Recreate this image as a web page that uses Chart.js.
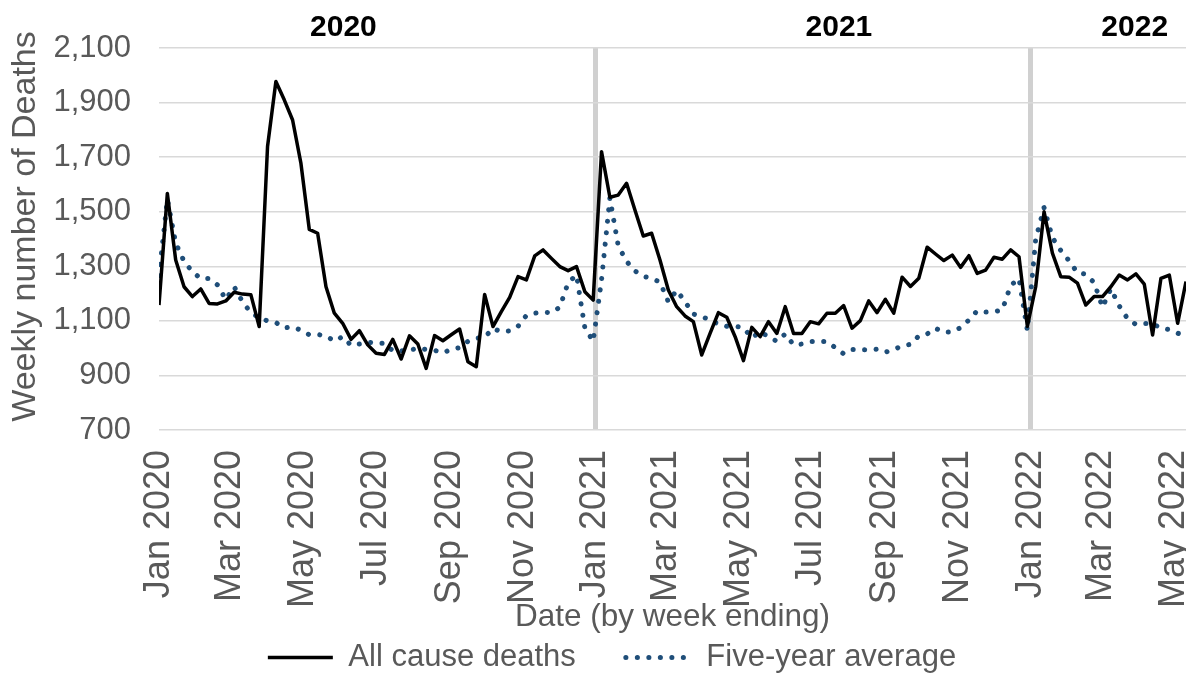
<!DOCTYPE html>
<html>
<head>
<meta charset="utf-8">
<script src="https://cdn.jsdelivr.net/npm/chart.js@4/dist/chart.umd.min.js"></script>
<style>
html,body{margin:0;padding:0;background:#ffffff;}
#wrap{width:1186px;height:675px;position:relative;}
</style>
</head>
<body>
<div id="wrap"><canvas id="c" width="1186" height="675"></canvas></div>
<script>
// ---- data ----
const firstWeekEnding = '2020-01-01';
const allCauseDeaths = [
 1158,1567,1323,1225,1189,1217,1164,1162,1173,1205,1198,1196,1079,1739,1977,1910,1836,1677,1435,1421,
 1225,1128,1091,1032,1064,1012,981,977,1032,960,1045,1015,926,1046,1027,1049,1070,950,932,1197,
 1079,1134,1186,1262,1250,1338,1360,1329,1299,1284,1299,1207,1176,1720,1553,1561,1604,1506,1411,1421,
 1323,1213,1152,1118,1097,975,1054,1130,1113,1042,954,1076,1042,1097,1054,1152,1054,1054,1097,1089,
 1128,1128,1156,1073,1101,1173,1130,1179,1128,1260,1226,1256,1370,1345,1321,1341,1296,1339,1274,1286,
 1333,1326,1360,1335,1080,1225,1500,1348,1262,1260,1238,1158,1189,1189,1225,1268,1250,1272,1235,1048,
 1256,1268,1091,1244
];
const fiveYearAverage = [
 1265,1545,1385,1318,1280,1255,1255,1232,1178,1225,1170,1130,1112,1100,1094,1074,1078,1066,1049,1050,
 1045,1026,1042,1010,1015,1022,1018,1018,990,990,992,1000,995,992,983,995,1002,1025,1036,1040,
 1072,1060,1063,1080,1120,1128,1132,1130,1150,1240,1268,1075,1025,1250,1550,1375,1318,1283,1263,1256,
 1242,1170,1212,1170,1125,1116,1103,1088,1080,1080,1075,1038,1060,1042,1025,1052,1012,1015,1024,1024,
 1024,1002,979,995,995,993,996,985,995,1008,1014,1045,1052,1073,1058,1060,1075,1103,1137,1132,
 1133,1140,1230,1255,1065,1400,1515,1405,1358,1320,1276,1271,1240,1150,1218,1155,1108,1087,1090,1090,
 1073,1068,1055,1042
];
const tickDates = ['2020-01-01','2020-03-01','2020-05-01','2020-07-01','2020-09-01','2020-11-01',
 '2021-01-01','2021-03-01','2021-05-01','2021-07-01','2021-09-01','2021-11-01',
 '2022-01-01','2022-03-01','2022-05-01'];
const tickLabels = ['Jan 2020','Mar 2020','May 2020','Jul 2020','Sep 2020','Nov 2020',
 'Jan 2021','Mar 2021','May 2021','Jul 2021','Sep 2021','Nov 2021',
 'Jan 2022','Mar 2022','May 2022'];
const yearDividerDates = ['2021-01-01','2022-01-01'];
const yearLabels = ['2020','2021','2022'];
const yMin = 700, yMax = 2100, yStep = 200;

// ---- helpers ----
const DAY = 864e5;
const origin = Date.parse('2020-01-01T00:00:00Z');
const dayOf = s => (Date.parse(s + 'T00:00:00Z') - origin) / DAY;
const startDay = dayOf(firstWeekEnding);
const weekDays = allCauseDeaths.map((_, i) => startDay + 7 * i);
const tickDays = tickDates.map(dayOf);
const dividerDays = yearDividerDates.map(dayOf);
const lastDay = weekDays[weekDays.length - 1];

const FONT = "'Liberation Sans', Arial, sans-serif";
const GREY = '#595959';

const yearLabelPlugin = {
  id: 'yearLabels',
  afterDatasetsDraw(chart, args, opts) {
    const {ctx} = chart;
    const xs = chart.scales.x;
    ctx.save();
    ctx.font = 'bold 30px ' + FONT;
    ctx.fillStyle = '#000';
    ctx.textAlign = 'center';
    ctx.textBaseline = 'middle';
    yearLabels.forEach((t, i) => {
      ctx.fillText(t, xs.getPixelForValue(opts.anchors[i]), opts.y);
    });
    ctx.restore();
  }
};
const layoutTweak = {
  id: 'layoutTweak',
  afterLayout(chart, args, opts) {
    const l = chart.legend;
    l.left += opts.dx; l.right += opts.dx;
    l.top += opts.dy; l.bottom += opts.dy;
    chart.scales.x.bottom = opts.xBottom;
    chart.scales.y.bottom -= opts.yTitleRaise;
  }
};

new Chart(document.getElementById('c'), {
  type: 'line',
  data: {
    datasets: [
      {
        label: 'All cause deaths',
        data: allCauseDeaths.map((v, i) => ({x: weekDays[i], y: v})),
        borderColor: '#000000',
        backgroundColor: '#000000',
        borderWidth: 3.5,
        borderJoinStyle: 'round',
        pointRadius: 0,
        pointHoverRadius: 0,
        tension: 0
      },
      {
        label: 'Five-year average',
        data: fiveYearAverage.map((v, i) => ({x: weekDays[i], y: v})),
        borderColor: '#1f4e79',
        backgroundColor: '#1f4e79',
        borderWidth: 5,
        borderDash: [0.1, 11.4],
        borderCapStyle: 'round',
        pointRadius: 0,
        pointHoverRadius: 0,
        tension: 0
      }
    ]
  },
  options: {
    responsive: false,
    animation: false,
    events: [],
    layout: {padding: {top: 48, left: 0, right: 0, bottom: 0}},
    scales: {
      x: {
        type: 'linear',
        min: 0,
        max: lastDay,
        afterBuildTicks: s => { s.ticks = tickDays.map(v => ({value: v})); },
        afterFit: s => { s.height = 154; s.paddingLeft = 0; s.paddingRight = 0; },
        ticks: {
          autoSkip: false,
          minRotation: 90,
          maxRotation: 90,
          padding: 20,
          color: GREY,
          font: {family: FONT, size: 36},
          callback: v => { const k = tickDays.indexOf(v); return k >= 0 ? tickLabels[k] : ''; }
        },
        grid: {
          drawTicks: false,
          color: c => (c.tick && dividerDays.includes(c.tick.value)) ? '#d0d0d0' : 'rgba(0,0,0,0)',
          lineWidth: c => (c.tick && dividerDays.includes(c.tick.value)) ? 5 : 0
        },
        border: {display: false},
        title: {
          display: true,
          text: 'Date (by week ending)',
          color: GREY,
          font: {family: FONT, size: 31.5, lineHeight: 1.2},
          padding: {top: 0, bottom: 39}
        }
      },
      y: {
        min: yMin,
        max: yMax,
        afterFit: s => { s.width = 159; },
        ticks: {
          stepSize: yStep,
          padding: 28,
          color: GREY,
          font: {family: FONT, size: 31},
          callback: v => v.toLocaleString('en-US')
        },
        grid: {color: '#d9d9d9', lineWidth: 1.5, drawTicks: false},
        border: {display: false},
        title: {
          display: true,
          text: 'Weekly number of Deaths',
          color: GREY,
          font: {family: FONT, size: 34, lineHeight: 1.2},
          padding: {top: 5, bottom: 0}
        }
      }
    },
    plugins: {
      legend: {
        position: 'bottom',
        labels: {
          usePointStyle: true,
          pointStyle: 'line',
          pointStyleWidth: 65,
          padding: 50,
          color: GREY,
          font: {family: FONT, size: 31},
          generateLabels: chart => {
            const items = Chart.defaults.plugins.legend.labels.generateLabels(chart);
            items.forEach(it => {
              const ds = chart.data.datasets[it.datasetIndex];
              it.lineDash = ds.borderDash || [];
              it.lineCap = ds.borderCapStyle || 'butt';
              it.lineWidth = ds.borderWidth;
              it.strokeStyle = ds.borderColor;
            });
            return items;
          }
        }
      },
      tooltip: {enabled: false},
      yearLabels: {anchors: [154.6, 570, 818], y: 28},
      layoutTweak: {dx: 19, dy: 8, xBottom: 675, yTitleRaise: 25}
    }
  },
  plugins: [yearLabelPlugin, layoutTweak]
});
</script>
</body>
</html>
